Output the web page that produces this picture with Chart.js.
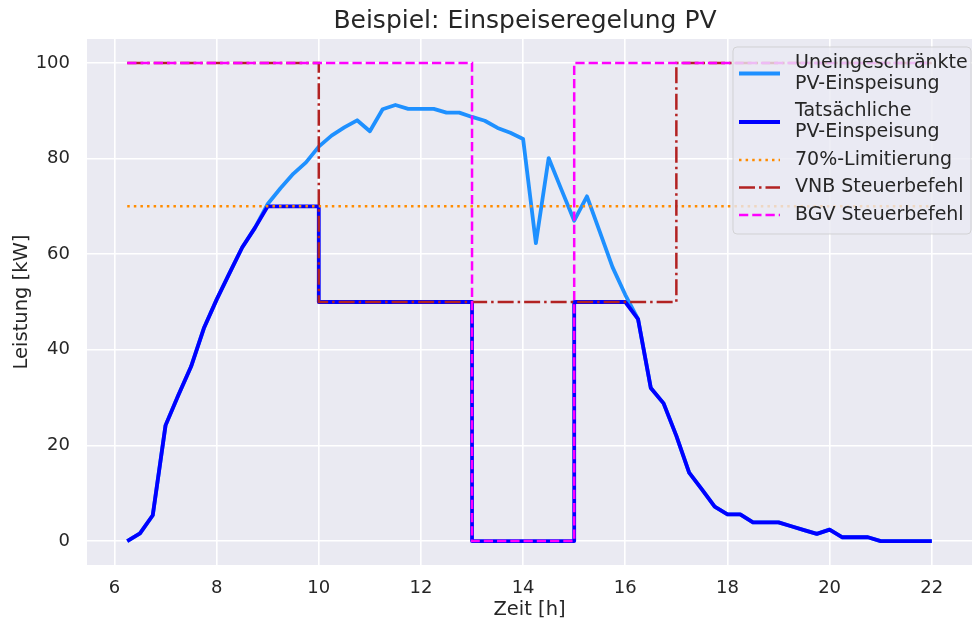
<!DOCTYPE html>
<html>
<head>
<meta charset="utf-8">
<title>Beispiel: Einspeiseregelung PV</title>
<script src="https://cdn.jsdelivr.net/npm/chart.js@4.4.1/dist/chart.umd.min.js"></script>
<style>
    body { margin: 0; background: #ffffff; }
    #wrap { width: 972px; height: 622px; }
</style>
</head>
<body>
<div id="wrap"><canvas id="pvChart" width="972" height="622"></canvas></div>
<script>
// time axis [h] for the unrestricted PV feed-in
const timeH = [6.25, 6.5, 6.75, 7, 7.25, 7.5, 7.75, 8, 8.25, 8.5, 8.75, 9,
    9.25, 9.5, 9.75, 10, 10.25, 10.5, 10.75, 11, 11.25, 11.5, 11.75, 12,
    12.25, 12.5, 12.75, 13, 13.25, 13.5, 13.75, 14, 14.25, 14.5, 14.75, 15,
    15.25, 15.5, 15.75, 16, 16.25, 16.5, 16.75, 17, 17.25, 17.5, 17.75, 18,
    18.25, 18.5, 18.75, 19, 19.25, 19.5, 19.75, 20, 20.25, 20.5, 20.75, 21,
    21.25, 21.5, 21.75, 22];
const unrestrictedKW = [0, 1.6, 5.4, 24.2, 30.5, 36.5, 44.5, 50.5, 56, 61.4, 65.5, 70.5,
    73.8, 76.8, 79.2, 82.5, 84.8, 86.5, 88, 85.7, 90.3, 91.2, 90.4, 90.4,
    90.4, 89.6, 89.6, 88.7, 87.9, 86.4, 85.4, 84.1, 62.3, 80.1, 73.5, 67,
    72.1, 64.7, 57.3, 51.5, 46.4, 32, 28.8, 22, 14.3, 10.8, 7.2, 5.6,
    5.6, 3.9, 3.9, 3.9, 3.1, 2.3, 1.5, 2.4, 0.8, 0.8, 0.8, 0,
    0, 0, 0, 0];

// actual feed-in (with step changes from the control commands)
const actualTime = [6.25, 6.5, 6.75, 7, 7.25, 7.5, 7.75, 8, 8.25, 8.5, 8.75, 9,
    10, 10, 13, 13, 15, 15, 16,
    16.25, 16.5, 16.75, 17, 17.25, 17.5, 17.75, 18, 18.25, 18.5, 18.75, 19,
    19.25, 19.5, 19.75, 20, 20.25, 20.5, 20.75, 21, 21.25, 21.5, 21.75, 22];
const actualKW = [0, 1.6, 5.4, 24.2, 30.5, 36.5, 44.5, 50.5, 56, 61.4, 65.5, 70,
    70, 50, 50, 0, 0, 50, 50,
    46.4, 32, 28.8, 22, 14.3, 10.8, 7.2, 5.6, 5.6, 3.9, 3.9, 3.9,
    3.1, 2.3, 1.5, 2.4, 0.8, 0.8, 0.8, 0, 0, 0, 0, 0];

const limitTime = [6.25, 22];
const limitKW = [70, 70];

const vnbTime = [6.25, 10, 10, 17, 17, 22];
const vnbKW = [100, 100, 50, 50, 100, 100];

const bgvTime = [6.25, 13, 13, 15, 15, 22];
const bgvKW = [100, 100, 0, 0, 100, 100];

const xTicks = [6, 8, 10, 12, 14, 16, 18, 20, 22];
const yTicks = [0, 20, 40, 60, 80, 100];

const legendLabels = [
    ['Uneingeschränkte', 'PV-Einspeisung'],
    ['Tatsächliche', 'PV-Einspeisung'],
    ['70%-Limitierung'],
    ['VNB Steuerbefehl'],
    ['BGV Steuerbefehl']
];

const TEXT = '#262626';
const FONT = 'DejaVu Sans';

Chart.defaults.font.family = FONT;

function pts(xs, ys) {
    return xs.map((x, i) => ({x: x, y: ys[i]}));
}

const axesBg = {
    id: 'axesBg',
    beforeDraw(chart) {
        const {ctx, chartArea: a} = chart;
        ctx.save();
        ctx.fillStyle = '#eaeaf2';
        ctx.fillRect(a.left, a.top, a.right - a.left, a.bottom - a.top);
        ctx.restore();
    }
};

const titlePlugin = {
    id: 'axesTitle',
    afterDraw(chart) {
        const ctx = chart.ctx;
        ctx.save();
        ctx.fillStyle = TEXT;
        ctx.font = '25px "' + FONT + '"';
        ctx.textAlign = 'center';
        ctx.textBaseline = 'alphabetic';
        ctx.fillText('Beispiel: Einspeiseregelung PV', 525, 28);
        ctx.restore();
    }
};

// legend box with two-line labels, drawn on top of the axes
const boxLegend = {
    id: 'boxLegend',
    afterDraw(chart) {
        const ctx = chart.ctx;
        const box = {left: 733, top: 47, right: 971, bottom: 234};
        ctx.save();
        ctx.beginPath();
        ctx.roundRect(box.left, box.top, box.right - box.left, box.bottom - box.top, 4);
        ctx.fillStyle = 'rgba(234, 234, 242, 0.8)';
        ctx.fill();
        ctx.strokeStyle = 'rgba(204, 204, 204, 0.8)';
        ctx.lineWidth = 1;
        ctx.stroke();

        const sets = chart.data.datasets.slice().reverse();
        ctx.font = '19px "' + FONT + '"';
        ctx.textBaseline = 'middle';
        ctx.textAlign = 'left';
        let y = 63;
        sets.forEach((ds, i) => {
            const lines = legendLabels[i];
            const last = y + (lines.length - 1) * 21;
            const mid = (y + last) / 2;
            ctx.beginPath();
            ctx.setLineDash(ds.borderDash || []);
            ctx.strokeStyle = ds.borderColor;
            ctx.lineWidth = ds.borderWidth;
            ctx.lineCap = 'butt';
            ctx.moveTo(739, mid);
            ctx.lineTo(780, mid);
            ctx.stroke();
            ctx.setLineDash([]);
            ctx.fillStyle = TEXT;
            lines.forEach((t, k) => ctx.fillText(t, 795, y + k * 21));
            y = last + 27.5;
        });
        ctx.restore();
    }
};

new Chart(document.getElementById('pvChart'), {
    type: 'line',
    data: {
        datasets: [
            {
                label: 'BGV Steuerbefehl',
                data: pts(bgvTime, bgvKW),
                borderColor: '#ff00ff',
                borderWidth: 2.5,
                borderDash: [9.25, 4]
            },
            {
                label: 'VNB Steuerbefehl',
                data: pts(vnbTime, vnbKW),
                borderColor: '#b22222',
                borderWidth: 2.5,
                borderDash: [16, 4, 2.5, 4]
            },
            {
                label: '70%-Limitierung',
                data: pts(limitTime, limitKW),
                borderColor: '#ff8c00',
                borderWidth: 2.5,
                borderDash: [2.5, 4.1]
            },
            {
                label: 'Tatsächliche PV-Einspeisung',
                data: pts(actualTime, actualKW),
                borderColor: '#0000ff',
                borderWidth: 3.8,
                borderJoinStyle: 'round'
            },
            {
                label: 'Uneingeschränkte PV-Einspeisung',
                data: pts(timeH, unrestrictedKW),
                borderColor: '#1e90ff',
                borderWidth: 3.8,
                borderJoinStyle: 'round'
            }
        ]
    },
    options: {
        responsive: false,
        animation: false,
        layout: {padding: {top: 39, left: 0, right: 0, bottom: 0}},
        elements: {
            point: {radius: 0, hoverRadius: 0},
            line: {tension: 0, fill: false}
        },
        plugins: {
            legend: {display: false},
            title: {display: false},
            tooltip: {enabled: false}
        },
        scales: {
            x: {
                type: 'linear',
                min: 5.4625,
                max: 22.7875,
                afterBuildTicks: axis => { axis.ticks = xTicks.map(v => ({value: v})); },
                afterFit: axis => { axis.height = 57; },
                border: {display: false},
                grid: {color: '#ffffff', lineWidth: 1.6, drawTicks: false},
                ticks: {color: TEXT, font: {size: 18}, padding: 13, maxRotation: 0},
                title: {display: true, text: 'Zeit [h]', color: TEXT, font: {size: 19.5}, padding: {top: 0, bottom: 0}}
            },
            y: {
                min: -5,
                max: 105,
                afterBuildTicks: axis => { axis.ticks = yTicks.map(v => ({value: v})); },
                afterFit: axis => { axis.width = 87; },
                border: {display: false},
                grid: {color: '#ffffff', lineWidth: 1.6, drawTicks: false},
                ticks: {color: TEXT, font: {size: 18}, padding: 17},
                title: {display: true, text: 'Leistung [kW]', color: TEXT, font: {size: 19.5}, padding: {top: 10, bottom: 0}}
            }
        }
    },
    plugins: [axesBg, titlePlugin, boxLegend]
});
</script>
</body>
</html>
